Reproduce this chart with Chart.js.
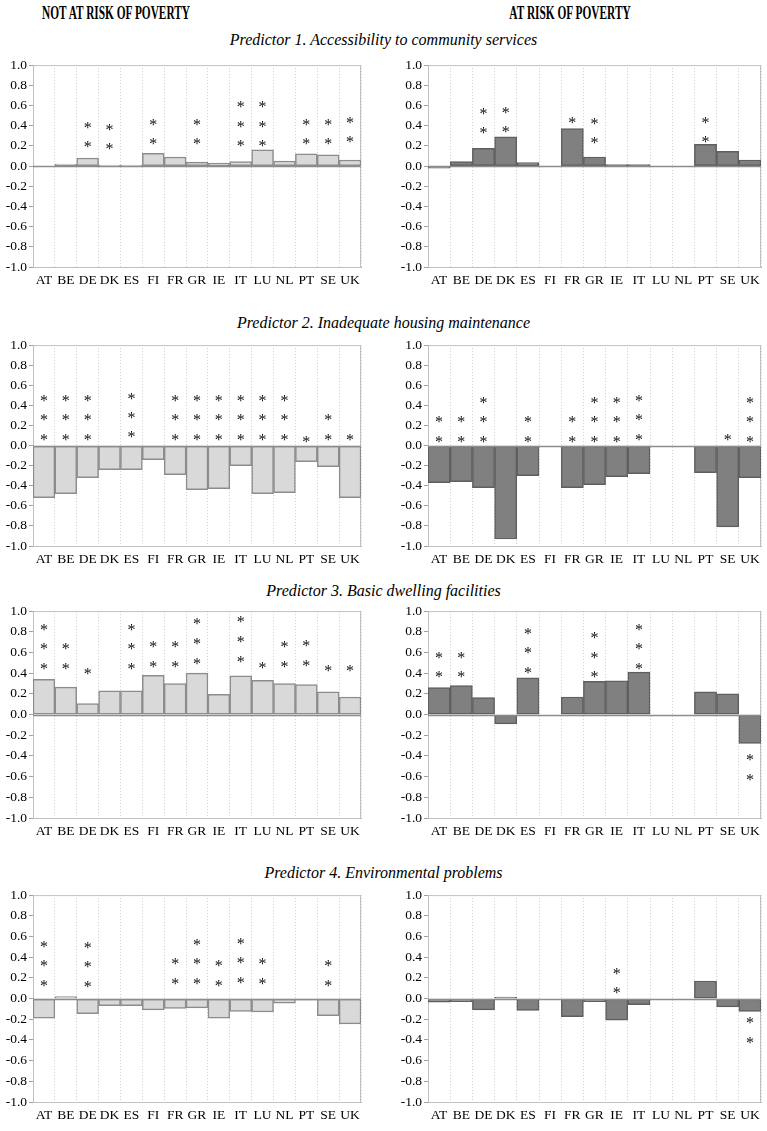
<!DOCTYPE html>
<html>
<head>
<meta charset="UTF-8">
<title>Predictors by poverty status</title>
<script src="https://cdn.jsdelivr.net/npm/chart.js"></script>
<style>
    body { margin: 0; background: #fff; font-family: "Liberation Serif", "DejaVu Serif", serif; color: #000; }
    .page { position: relative; width: 767px; height: 1131px; overflow: hidden; }
    .head { position: absolute; top: 3px; font-weight: bold; font-size: 18px; line-height: 20px; text-align: center; width: 300px; transform: scaleX(0.63); }
    .title { position: absolute; left: 0; width: 767px; text-align: center; font-style: italic; font-size: 16px; line-height: 18px; }
    canvas { position: absolute; }
</style>
</head>
<body>
<div class="page" id="page">
    <div class="head" style="left:-34px">NOT AT RISK OF POVERTY</div>
    <div class="head" style="left:420px">AT RISK OF POVERTY</div>
</div>

<script>
    // categories and titles
    const countries = ['AT', 'BE', 'DE', 'DK', 'ES', 'FI', 'FR', 'GR', 'IE', 'IT', 'LU', 'NL', 'PT', 'SE', 'UK'];
    const predictorTitles = [
        'Predictor 1. Accessibility to community services',
        'Predictor 2. Inadequate housing maintenance',
        'Predictor 3. Basic dwelling facilities',
        'Predictor 4. Environmental problems'
    ];
    const yTickValues = [-1.0, -0.8, -0.6, -0.4, -0.2, 0.0, 0.2, 0.4, 0.6, 0.8, 1.0];

    // Predictor 1
    const p1NotRisk      = [0.00, 0.02, 0.08, 0.01, 0.01, 0.125, 0.09, 0.04, 0.03, 0.045, 0.16, 0.05, 0.12, 0.11, 0.06];
    const p1NotRiskStars = [0, 0, 2, 2, 0, 2, 0, 2, 0, 3, 3, 0, 2, 2, 2];
    const p1NotRiskStarAt = [0, 0, 0.23, 0.21, 0, 0.26, 0, 0.26, 0, 0.24, 0.24, 0, 0.26, 0.26, 0.28];
    const p1Risk         = [-0.02, 0.045, 0.175, 0.29, 0.035, 0, 0.37, 0.09, 0.015, 0.015, 0, 0, 0.215, 0.145, 0.06];
    const p1RiskStars    = [0, 0, 2, 2, 0, 0, 1, 2, 0, 0, 0, 0, 2, 0, 0];
    const p1RiskStarAt   = [0, 0, 0.37, 0.38, 0, 0, 0.47, 0.27, 0, 0, 0, 0, 0.28, 0, 0];

    // Predictor 2
    const p2NotRisk      = [-0.52, -0.48, -0.32, -0.24, -0.24, -0.14, -0.29, -0.44, -0.43, -0.20, -0.48, -0.47, -0.16, -0.21, -0.52];
    const p2NotRiskStars = [3, 3, 3, 0, 3, 0, 3, 3, 3, 3, 3, 3, 1, 2, 1];
    const p2NotRiskStarAt = [0.10, 0.10, 0.10, 0, 0.12, 0, 0.10, 0.10, 0.10, 0.10, 0.10, 0.10, 0.08, 0.10, 0.10];
    const p2Risk         = [-0.37, -0.36, -0.42, -0.93, -0.30, 0, -0.42, -0.39, -0.31, -0.28, 0, 0, -0.27, -0.81, -0.32];
    const p2RiskStars    = [2, 2, 3, 0, 2, 0, 2, 3, 3, 3, 0, 0, 0, 1, 3];
    const p2RiskStarAt   = [0.08, 0.08, 0.08, 0, 0.08, 0, 0.08, 0.08, 0.08, 0.10, 0, 0, 0, 0.10, 0.08];

    // Predictor 3
    const p3NotRisk      = [0.34, 0.265, 0.105, 0.23, 0.23, 0.38, 0.30, 0.40, 0.195, 0.375, 0.33, 0.30, 0.29, 0.22, 0.17];
    const p3NotRiskStars = [3, 2, 1, 0, 3, 2, 2, 3, 0, 3, 1, 2, 2, 1, 1];
    const p3NotRiskStarAt = [0.48, 0.48, 0.43, 0, 0.48, 0.50, 0.50, 0.53, 0, 0.55, 0.49, 0.50, 0.51, 0.46, 0.46];
    const p3Risk         = [0.26, 0.28, 0.165, -0.09, 0.355, 0, 0.17, 0.32, 0.325, 0.41, 0, 0, 0.22, 0.20, -0.28];
    const p3RiskStars    = [2, 2, 0, 0, 3, 0, 0, 3, 0, 3, 0, 0, 0, 0, 2];
    const p3RiskStarAt   = [0.40, 0.40, 0, 0, 0.44, 0, 0, 0.40, 0, 0.48, 0, 0, 0, 0, -0.40];

    // Predictor 4
    const p4NotRisk      = [-0.19, 0.02, -0.145, -0.07, -0.07, -0.11, -0.095, -0.09, -0.19, -0.125, -0.13, -0.045, -0.015, -0.165, -0.245];
    const p4NotRiskStars = [3, 0, 3, 0, 0, 0, 2, 3, 2, 3, 2, 0, 0, 2, 0];
    const p4NotRiskStarAt = [0.16, 0, 0.15, 0, 0, 0, 0.18, 0.18, 0.16, 0.19, 0.18, 0, 0, 0.16, 0];
    const p4Risk         = [-0.035, -0.03, -0.11, 0.015, -0.115, 0, -0.175, -0.03, -0.21, -0.06, 0, 0, 0.17, -0.08, -0.125];
    const p4RiskStars    = [0, 0, 0, 0, 0, 0, 0, 0, 2, 0, 0, 0, 0, 0, 2];
    const p4RiskStarAt   = [0, 0, 0, 0, 0, 0, 0, 0, 0.09, 0, 0, 0, 0, 0, -0.20];

    const starStep = 0.19;

    // page layout: plot area top / bottom per row, title centre per row
    const rows = [
        { top: 65,  bottom: 267,  title: 40 },
        { top: 345, bottom: 546,  title: 323 },
        { top: 611, bottom: 818,  title: 591 },
        { top: 895, bottom: 1102, title: 873 }
    ];
    const cols = [
        { left: 0,   width: 365, plotLeft: 33,  padRight: 4, fill: '#d9d9d9', border: '#8c8c8c' },
        { left: 385, width: 382, plotLeft: 428, padRight: 6, fill: '#808080', border: '#5f5f5f' }
    ];
    const panels = [
        [[p1NotRisk, p1NotRiskStars, p1NotRiskStarAt], [p1Risk, p1RiskStars, p1RiskStarAt]],
        [[p2NotRisk, p2NotRiskStars, p2NotRiskStarAt], [p2Risk, p2RiskStars, p2RiskStarAt]],
        [[p3NotRisk, p3NotRiskStars, p3NotRiskStarAt], [p3Risk, p3RiskStars, p3RiskStarAt]],
        [[p4NotRisk, p4NotRiskStars, p4NotRiskStarAt], [p4Risk, p4RiskStars, p4RiskStarAt]]
    ];

    const padTop = 10, xAxisH = 22, padBottom = 2;
    const page = document.getElementById('page');

    // frame, zero line and significance stars
    const decorPlugin = {
        id: 'decor',
        beforeDatasetsDraw(chart) {
            const { ctx, chartArea: a } = chart;
            ctx.save();
            ctx.strokeStyle = '#c0c0c0';
            ctx.lineWidth = 1;
            ctx.strokeRect(a.left + 0.5, a.top + 0.5, a.right - a.left - 1, a.bottom - a.top);
            ctx.restore();
        },
        afterDatasetsDraw(chart, args, opts) {
            const { ctx, chartArea: a } = chart;
            const xs = chart.scales.x, ys = chart.scales.y;
            const y0 = Math.round(ys.getPixelForValue(0)) + 0.5;
            ctx.save();
            ctx.strokeStyle = '#8c8c8c';
            ctx.lineWidth = 1.5;
            ctx.beginPath();
            ctx.moveTo(a.left, y0);
            ctx.lineTo(a.right, y0);
            ctx.stroke();

            ctx.fillStyle = '#111';
            ctx.font = '16px "Liberation Serif", "DejaVu Serif", serif';
            ctx.textAlign = 'center';
            ctx.textBaseline = 'alphabetic';
            opts.stars.forEach((n, i) => {
                const at = opts.starAt[i];
                const dir = at < 0 ? -1 : 1;
                for (let k = 0; k < n; k++) {
                    const v = at + dir * k * starStep;
                    ctx.fillText('*', xs.getPixelForValue(i), ys.getPixelForValue(v) + 9);
                }
            });
            ctx.restore();
        }
    };

    rows.forEach((row, r) => {
        const t = document.createElement('div');
        t.className = 'title';
        t.style.top = (row.title - 9) + 'px';
        t.textContent = predictorTitles[r];
        page.appendChild(t);

        cols.forEach((col, c) => {
            const [values, stars, starAt] = panels[r][c];
            const canvas = document.createElement('canvas');
            const h = (row.bottom - row.top) + padTop + xAxisH + padBottom;
            canvas.width = col.width;
            canvas.height = h;
            canvas.style.left = col.left + 'px';
            canvas.style.top = (row.top - padTop) + 'px';
            page.appendChild(canvas);

            new Chart(canvas, {
                type: 'bar',
                data: {
                    labels: countries,
                    datasets: [{
                        data: values,
                        backgroundColor: col.fill,
                        borderColor: col.border,
                        borderWidth: 1.5,
                        borderSkipped: false,
                        categoryPercentage: 1.0,
                        barPercentage: 1.0
                    }]
                },
                options: {
                    responsive: false,
                    animation: false,
                    devicePixelRatio: 1,
                    layout: { padding: { top: padTop, right: col.padRight, bottom: padBottom, left: 0 } },
                    plugins: {
                        legend: { display: false },
                        tooltip: { enabled: false },
                        decor: { stars: stars, starAt: starAt }
                    },
                    scales: {
                        x: {
                            grid: { color: '#cfcfcf', lineWidth: 1, drawTicks: false, offset: true },
                            border: { color: '#b0b0b0', width: 1, dash: [1, 2] },
                            ticks: { color: '#000', font: { family: '"Liberation Serif", "DejaVu Serif", serif', size: 13.5 }, padding: 5, maxRotation: 0, autoSkip: false },
                            afterFit(scale) { scale.height = xAxisH; }
                        },
                        y: {
                            min: -1, max: 1,
                            afterBuildTicks(scale) { scale.ticks = yTickValues.map(v => ({ value: v })); },
                            grid: { drawOnChartArea: false, drawTicks: true, tickLength: 4, color: '#a0a0a0' },
                            border: { color: '#a0a0a0', width: 1 },
                            ticks: {
                                color: '#000', font: { family: '"Liberation Serif", "DejaVu Serif", serif', size: 13.5 }, padding: 2,
                                callback: v => (Math.abs(v) < 1e-9 ? 0 : v).toFixed(1)
                            },
                            afterFit(scale) { scale.width = col.plotLeft - col.left; }
                        }
                    }
                },
                plugins: [decorPlugin]
            });
        });
    });
</script>
</body>
</html>
